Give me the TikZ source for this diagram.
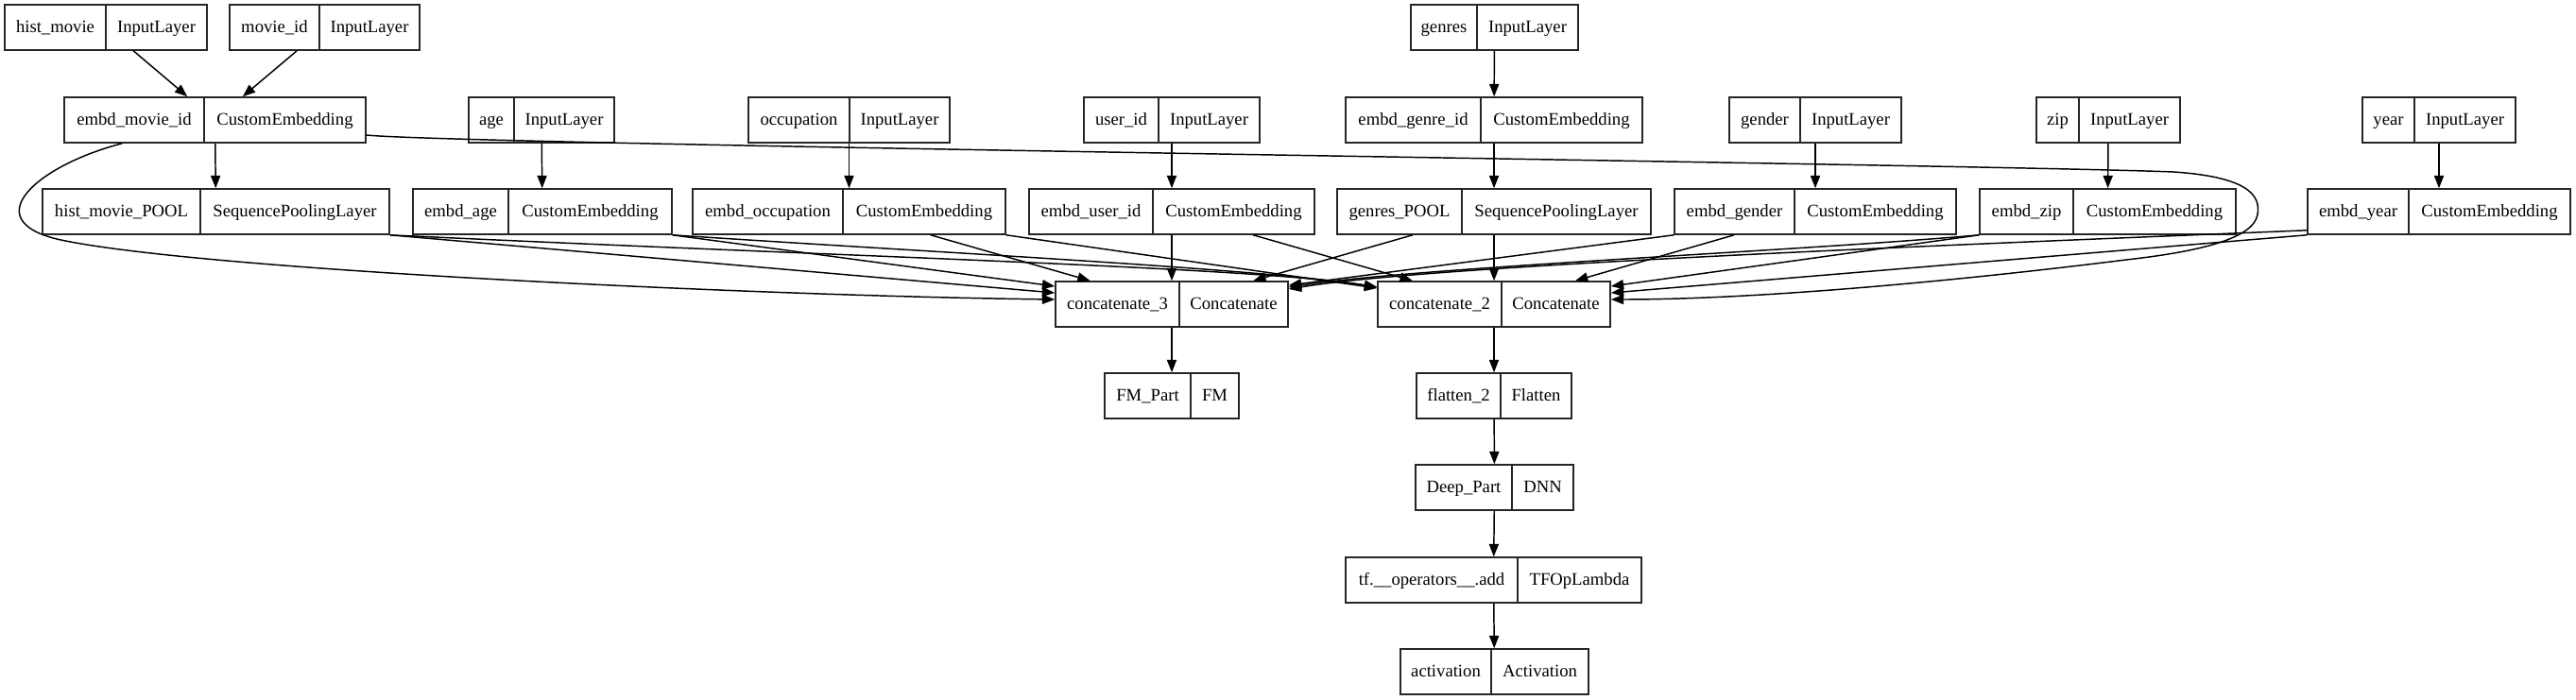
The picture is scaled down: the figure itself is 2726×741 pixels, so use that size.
\documentclass[tikz,border=0pt]{standalone}
\usepackage{fontspec}
\setmainfont{Liberation Serif}
\usetikzlibrary{arrows.meta,calc}

\tikzset{
  recbox/.style={draw=black!85, line width=1.2pt, rectangle, minimum height=36pt, inner sep=0pt},
  divline/.style={draw=black!85, line width=1pt},
  lbl/.style={inner sep=0pt, text height=10pt, text depth=2pt, font=\fontsize{14pt}{16pt}\selectfont},
  edge/.style={draw=black, line width=1.1pt, -{Triangle[length=10pt,width=7.6pt]}},
}

% #1 name, #2 left, #3 divider, #4 right, #5 y centre, #6 left text, #7 right text
\newcommand\recnode[7]{%
  \node[recbox, minimum width={(#4-#2)*0.75pt}] (#1) at ({(#2+#4)/2},#5) {};
  \draw[divline] ({#3},{#5-24}) -- ({#3},{#5+24});
  \node[lbl] (#1-a) at ({(#2+#3)/2},#5) {#6};
  \node[lbl] (#1-b) at ({(#3+#4)/2},#5) {#7};
}

\begin{document}
\begin{tikzpicture}[x=0.75pt,y=-0.75pt]
\useasboundingbox (0,0) rectangle (2726,741);
\fill[white] (0,0) rectangle (2726,741);

% row 1
\recnode{hist}{5}{112}{219}{29}{hist\_movie}{InputLayer}
\recnode{movieid}{243}{338}{444}{29}{movie\_id}{InputLayer}
\recnode{genres}{1493}{1563}{1670}{29}{genres}{InputLayer}
% row 2
\recnode{emovie}{68}{216}{387}{127}{embd\_movie\_id}{CustomEmbedding}
\recnode{age}{496}{544}{650}{127}{age}{InputLayer}
\recnode{occ}{792}{899}{1005}{127}{occupation}{InputLayer}
\recnode{userid}{1147}{1226}{1333}{127}{user\_id}{InputLayer}
\recnode{egenre}{1424}{1567}{1738}{127}{embd\_genre\_id}{CustomEmbedding}
\recnode{gender}{1830}{1905}{2012}{127}{gender}{InputLayer}
\recnode{zip}{2155}{2200}{2307}{127}{zip}{InputLayer}
\recnode{year}{2500}{2555}{2662}{127}{year}{InputLayer}
% row 3
\recnode{hpool}{45}{212}{412}{224}{hist\_movie\_POOL}{SequencePoolingLayer}
\recnode{eage}{437}{538}{711}{224}{embd\_age}{CustomEmbedding}
\recnode{eocc}{733}{892}{1064}{224}{embd\_occupation}{CustomEmbedding}
\recnode{euser}{1089}{1220}{1391}{224}{embd\_user\_id}{CustomEmbedding}
\recnode{gpool}{1415}{1547}{1747}{224}{genres\_POOL}{SequencePoolingLayer}
\recnode{egender}{1772}{1899}{2070}{224}{embd\_gender}{CustomEmbedding}
\recnode{ezip}{2095}{2194}{2366}{224}{embd\_zip}{CustomEmbedding}
\recnode{eyear}{2442}{2549}{2720}{224}{embd\_year}{CustomEmbedding}
% row 4
\recnode{c3}{1117}{1248}{1363}{322}{concatenate\_3}{Concatenate}
\recnode{c2}{1458}{1589}{1704}{322}{concatenate\_2}{Concatenate}
% lower rows
\recnode{fm}{1169}{1260}{1311}{419}{FM\_Part}{FM}
\recnode{flat}{1499}{1588}{1663}{419}{flatten\_2}{Flatten}
\recnode{deep}{1498}{1600}{1665}{516}{Deep\_Part}{DNN}
\recnode{add}{1424}{1606}{1737}{614}{tf.\_\_operators\_\_.add}{TFOpLambda}
\recnode{act}{1482}{1578}{1681}{711}{activation}{Activation}

% input -> embedding edges
\draw[edge] (hist) -- (emovie);
\draw[edge] (movieid) -- (emovie);
\draw[edge] (emovie) -- (hpool);
\draw[edge] (age) -- (eage);
\draw[edge] (occ) -- (eocc);
\draw[edge] (userid) -- (euser);
\draw[edge] (genres) -- (egenre);
\draw[edge] (egenre) -- (gpool);
\draw[edge] (gender) -- (egender);
\draw[edge] (zip) -- (ezip);
\draw[edge] (year) -- (eyear);

% embedding -> concatenate_3 / concatenate_2
\draw[edge] (hpool.south east) -- ($(c3.west)+(0,-12)$);
\draw[edge] (hpool.south east) .. controls (900,272) and (1330,283) .. ($(c2.west)+(0,-18)$);
\draw[edge] (eage.south east) -- ($(c3.west)+(0,-19)$);
\draw[edge] (eage.south east) .. controls (1000,268) and (1330,284) .. ($(c2.west)+(0,-18)$);
\draw[edge] (eocc) -- (c3);
\draw[edge] (eocc.south east) -- ($(c2.west)+(0,-17)$);
\draw[edge] (euser) -- (c3);
\draw[edge] (euser) -- (c2);
\draw[edge] (gpool) -- (c3);
\draw[edge] (gpool) -- (c2);
\draw[edge] (egender.south west) -- ($(c3.east)+(0,-20)$);
\draw[edge] (egender) -- (c2);
\draw[edge] (ezip.south west) .. controls (1900,266) and (1500,283) .. ($(c3.east)+(0,-18)$);
\draw[edge] (ezip.south west) -- ($(c2.east)+(0,-19)$);
\draw[edge] ($(eyear.south west)+(0,-5)$) .. controls (2100,258) and (1520,280) .. ($(c3.east)+(0,-16)$);
\draw[edge] (eyear.south west) -- ($(c2.east)+(0,-12)$);
% embd_movie_id loops
\draw[edge] ($(emovie.south west)+(62,0)$) .. controls (40,175) and (-25,232) .. (60,253)
  .. controls (200,285) and (800,313) .. ($(c3.west)+(0,-5)$);
\draw[edge] ($(emovie.east)+(0,16)$) .. controls (480,153) and (2100,174) .. (2300,182)
  .. controls (2375,187) and (2393,205) .. (2389,227)
  .. controls (2385,252) and (2330,266) .. (2250,275)
  .. controls (2050,300) and (1850,317) .. ($(c2.east)+(0,-5)$);

% lower chain
\draw[edge] (c3) -- (fm);
\draw[edge] (c2) -- (flat);
\draw[edge] (flat) -- (deep);
\draw[edge] (deep) -- (add);
\draw[edge] (add) -- (act);
\end{tikzpicture}
\end{document}
